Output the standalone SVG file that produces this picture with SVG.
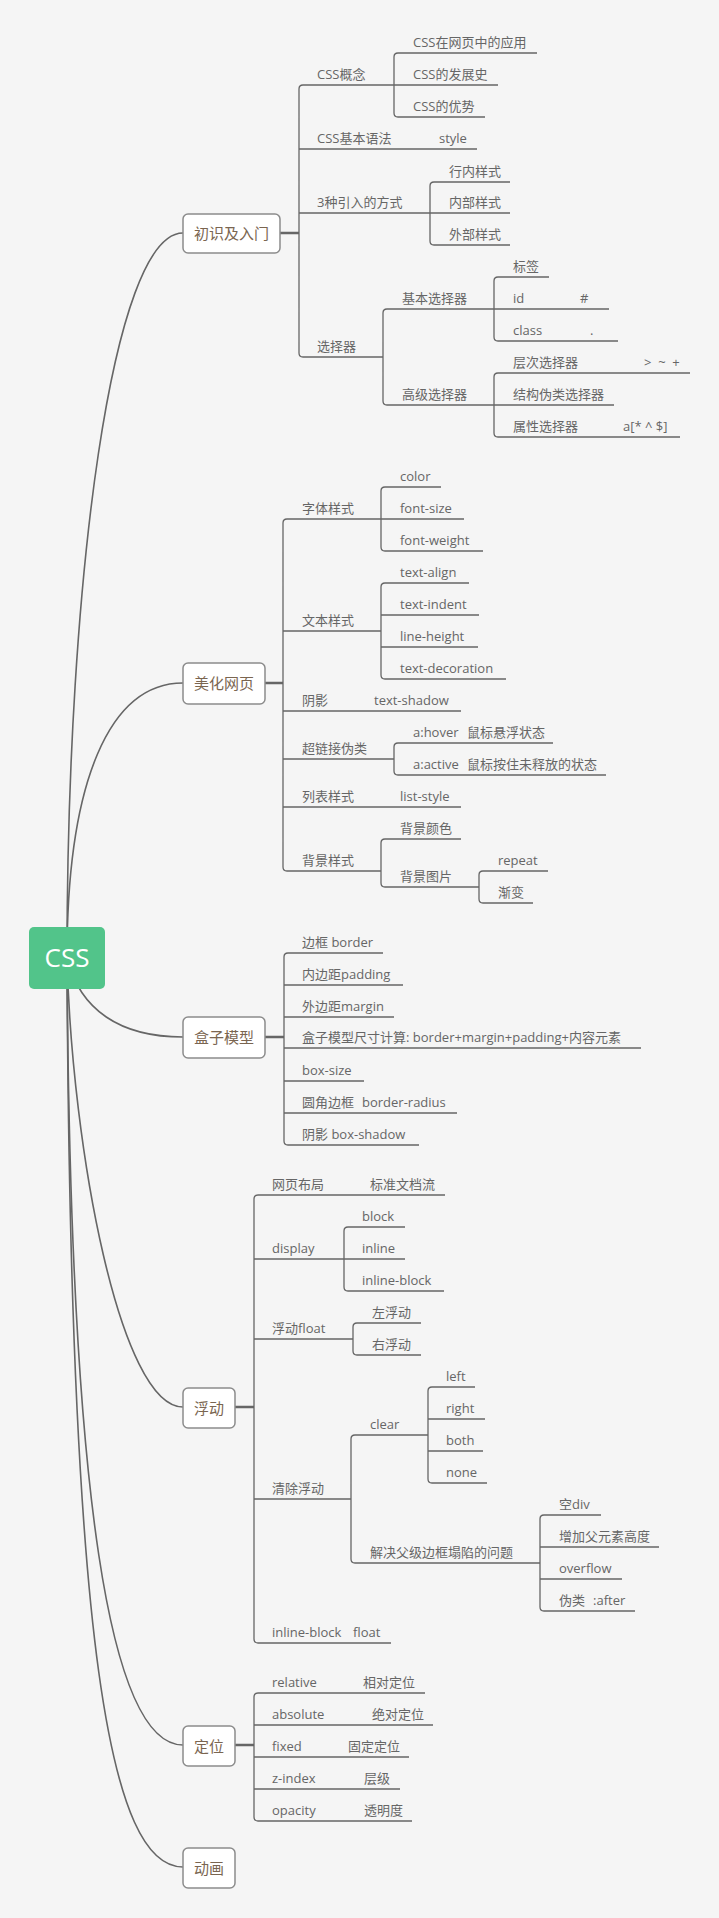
<svg xmlns="http://www.w3.org/2000/svg" width="719" height="1918" viewBox="0 0 719 1918">
<style>
.bg{fill:#f5f5f5}
.c{fill:none;stroke:#666;stroke-width:1.6}
.bc{fill:none;stroke:#666;stroke-width:2.4}
.l{fill:none;stroke:#666;stroke-width:1.3}
.t{font-family:"Open Sans","Noto Sans CJK SC",sans-serif;font-size:13px;fill:#666}
.box{fill:#fff;stroke:#8c8c8c;stroke-width:1.5}
.bt{font-family:"Noto Sans CJK SC","Noto Sans",sans-serif;font-size:15px;fill:#7a6550;text-anchor:middle}
.root{fill:#52c48a}
.rt{font-family:"Open Sans","Noto Sans",sans-serif;font-size:26px;fill:#fff;text-anchor:middle}
</style>
<rect class="bg" x="0" y="0" width="719" height="1918"/>
<g id="connectors">
<path class="c" d="M67,958 C67,580 112,233 183,233"/>
<path class="c" d="M67,958 C67,780 110,683 183,683"/>
<path class="c" d="M67,958 C80,1010 120,1037 183,1037"/>
<path class="c" d="M67,958 C72,1150 120,1407 183,1407"/>
<path class="c" d="M67,958 C70,1500 110,1745 183,1745"/>
<path class="c" d="M67,958 C70,1650 110,1867 183,1867"/>
<path class="bc" d="M280,233H299M265,683H283M265,1037H284M235,1407H254M235,1745H254"/>
<path class="l" d="M303,85Q299,85 299,89V353Q299,357 303,357
M398,53Q394,53 394,57V113Q394,117 398,117
M434,182Q430,182 430,186V241Q430,245 434,245
M387,309Q383,309 383,313V401Q383,405 387,405
M498,277Q494,277 494,281V337Q494,341 498,341
M498,373Q494,373 494,377V433Q494,437 498,437
M287,519Q283,519 283,523V867Q283,871 287,871
M385,487Q381,487 381,491V547Q381,551 385,551
M385,583Q381,583 381,587V675Q381,679 385,679
M398,743Q394,743 394,747V771Q394,775 398,775
M385,839Q381,839 381,843V883Q381,887 385,887
M483,871Q479,871 479,875V899Q479,903 483,903
M288,953Q284,953 284,957V1141Q284,1145 288,1145
M258,1195Q254,1195 254,1199V1639Q254,1643 258,1643
M348,1227Q344,1227 344,1231V1287Q344,1291 348,1291
M357,1323Q353,1323 353,1327V1351Q353,1355 357,1355
M355,1435Q351,1435 351,1439V1559Q351,1563 355,1563
M432,1387Q428,1387 428,1391V1479Q428,1483 432,1483
M544,1515Q540,1515 540,1519V1607Q540,1611 544,1611
M258,1693Q254,1693 254,1697V1817Q254,1821 258,1821"/>
<path class="l" d="M303,85H394M299,149H477M299,213H430M303,357H383
M398,53H537M394,85H498M398,117H485
M434,182H510M430,213H510M434,245H510
M387,309H494M387,405H494
M498,277H549M494,309H609M498,341H618
M498,373H690M494,405H614M498,437H680
M287,519H381M283,631H381M283,711H461M283,759H394M283,807H461M287,871H381
M385,487H441M381,519H464M385,551H483
M385,583H469M381,615H479M381,647H478M385,679H506
M398,743H553M398,775H606
M385,839H461M385,887H479
M483,871H548M483,903H533
M288,953H383M284,985H403M284,1017H394M284,1048H641M284,1081H364M284,1113H457M288,1145H419
M258,1195H445M254,1259H344M254,1339H353M254,1499H351M258,1643H391
M348,1227H405M344,1259H405M348,1291H444
M357,1323H421M357,1355H421
M355,1435H428M355,1563H540
M432,1387H475M428,1419H485M428,1451H483M432,1483H487
M544,1515H601M540,1547H659M540,1579H622M544,1611H635
M258,1693H425M254,1725H433M254,1757H409M254,1789H400M258,1821H412"/>
</g>
<g id="root"><rect class="root" x="29" y="927" width="76" height="62" rx="5"/><text class="rt" x="67" y="967">CSS</text></g>
<g id="n-rumen"><rect class="box" x="183" y="214" width="97" height="39" rx="5"/><text class="bt" x="231.5" y="239">初识及入门</text></g>
<g id="n-gainian"><text class="t" x="317" y="78.5">CSS概念</text></g>
<g id="n-yingyong"><text class="t" x="413" y="46.5">CSS在网页中的应用</text></g>
<g id="n-fazhan"><text class="t" x="413" y="78.5">CSS的发展史</text></g>
<g id="n-youshi"><text class="t" x="413" y="110.5">CSS的优势</text></g>
<g id="n-yufa"><text class="t" x="317" y="142.5">CSS基本语法</text></g>
<g id="n-style"><text class="t" x="439" y="142.5">style</text></g>
<g id="n-yinru"><text class="t" x="317" y="206.5">3种引入的方式</text></g>
<g id="n-hangnei"><text class="t" x="449" y="175.5">行内样式</text></g>
<g id="n-neibu"><text class="t" x="449" y="206.5">内部样式</text></g>
<g id="n-waibu"><text class="t" x="449" y="238.5">外部样式</text></g>
<g id="n-xuanze"><text class="t" x="317" y="350.5">选择器</text></g>
<g id="n-jiben"><text class="t" x="402" y="302.5">基本选择器</text></g>
<g id="n-gaoji"><text class="t" x="402" y="398.5">高级选择器</text></g>
<g id="n-biaoqian"><text class="t" x="513" y="270.5">标签</text></g>
<g id="n-id"><text class="t" x="513" y="302.5">id</text><text class="t" x="580" y="302.5">#</text></g>
<g id="n-class"><text class="t" x="513" y="334.5">class</text><text class="t" x="590" y="334.5">.</text></g>
<g id="n-cengci"><text class="t" x="513" y="366.5">层次选择器</text><text class="t" x="644" y="366.5" xml:space="preserve">&gt;  ~  +</text></g>
<g id="n-jiegou"><text class="t" x="513" y="398.5">结构伪类选择器</text></g>
<g id="n-shuxing"><text class="t" x="513" y="430.5">属性选择器</text><text class="t" x="623" y="430.5">a[* ^ $]</text></g>

<g id="n-meihua"><rect class="box" x="183" y="663" width="82" height="41" rx="5"/><text class="bt" x="224" y="689">美化网页</text></g>
<g id="n-ziti"><text class="t" x="302" y="512.5">字体样式</text></g>
<g id="n-color"><text class="t" x="400" y="480.5">color</text></g>
<g id="n-fontsize"><text class="t" x="400" y="512.5">font-size</text></g>
<g id="n-fontweight"><text class="t" x="400" y="544.5">font-weight</text></g>
<g id="n-wenben"><text class="t" x="302" y="624.5">文本样式</text></g>
<g id="n-textalign"><text class="t" x="400" y="576.5">text-align</text></g>
<g id="n-textindent"><text class="t" x="400" y="608.5">text-indent</text></g>
<g id="n-lineheight"><text class="t" x="400" y="640.5">line-height</text></g>
<g id="n-textdeco"><text class="t" x="400" y="672.5">text-decoration</text></g>
<g id="n-yinying"><text class="t" x="302" y="704.5">阴影</text><text class="t" x="374" y="704.5">text-shadow</text></g>
<g id="n-chaolian"><text class="t" x="302" y="752.5">超链接伪类</text></g>
<g id="n-hover"><text class="t" x="413" y="736.5">a:hover</text><text class="t" x="467" y="736.5">鼠标悬浮状态</text></g>
<g id="n-active"><text class="t" x="413" y="768.5">a:active</text><text class="t" x="467" y="768.5">鼠标按住未释放的状态</text></g>
<g id="n-liebiao"><text class="t" x="302" y="800.5">列表样式</text><text class="t" x="400" y="800.5">list-style</text></g>
<g id="n-beijing"><text class="t" x="302" y="864.5">背景样式</text></g>
<g id="n-bjys"><text class="t" x="400" y="832.5">背景颜色</text></g>
<g id="n-bjtp"><text class="t" x="400" y="880.5">背景图片</text></g>
<g id="n-repeat"><text class="t" x="498" y="864.5">repeat</text></g>
<g id="n-jianbian"><text class="t" x="498" y="896.5">渐变</text></g>

<g id="n-hezi"><rect class="box" x="183" y="1017" width="82" height="41" rx="5"/><text class="bt" x="224" y="1043">盒子模型</text></g>
<g id="n-border"><text class="t" x="302" y="946.5">边框 border</text></g>
<g id="n-padding"><text class="t" x="302" y="978.5">内边距padding</text></g>
<g id="n-margin"><text class="t" x="302" y="1010.5">外边距margin</text></g>
<g id="n-chicun"><text class="t" x="302" y="1041.5">盒子模型尺寸计算: border+margin+padding+内容元素</text></g>
<g id="n-boxsize"><text class="t" x="302" y="1074.5">box-size</text></g>
<g id="n-radius"><text class="t" x="302" y="1106.5">圆角边框</text><text class="t" x="362" y="1106.5">border-radius</text></g>
<g id="n-boxshadow"><text class="t" x="302" y="1138.5">阴影 box-shadow</text></g>

<g id="n-fudong"><rect class="box" x="183" y="1388" width="52" height="40" rx="5"/><text class="bt" x="209" y="1413.5">浮动</text></g>
<g id="n-buju"><text class="t" x="272" y="1188.5">网页布局</text><text class="t" x="370" y="1188.5">标准文档流</text></g>
<g id="n-display"><text class="t" x="272" y="1252.5">display</text></g>
<g id="n-block"><text class="t" x="362" y="1220.5">block</text></g>
<g id="n-inline"><text class="t" x="362" y="1252.5">inline</text></g>
<g id="n-inlineblock"><text class="t" x="362" y="1284.5">inline-block</text></g>
<g id="n-float"><text class="t" x="272" y="1332.5">浮动float</text></g>
<g id="n-zuo"><text class="t" x="372" y="1316.5">左浮动</text></g>
<g id="n-you"><text class="t" x="372" y="1348.5">右浮动</text></g>
<g id="n-qingchu"><text class="t" x="272" y="1492.5">清除浮动</text></g>
<g id="n-clear"><text class="t" x="370" y="1428.5">clear</text></g>
<g id="n-left"><text class="t" x="446" y="1380.5">left</text></g>
<g id="n-right"><text class="t" x="446" y="1412.5">right</text></g>
<g id="n-both"><text class="t" x="446" y="1444.5">both</text></g>
<g id="n-none"><text class="t" x="446" y="1476.5">none</text></g>
<g id="n-taxian"><text class="t" x="370" y="1556.5">解决父级边框塌陷的问题</text></g>
<g id="n-kongdiv"><text class="t" x="559" y="1508.5">空div</text></g>
<g id="n-gaodu"><text class="t" x="559" y="1540.5">增加父元素高度</text></g>
<g id="n-overflow"><text class="t" x="559" y="1572.5">overflow</text></g>
<g id="n-after"><text class="t" x="559" y="1604.5">伪类</text><text class="t" x="593" y="1604.5">:after</text></g>
<g id="n-ibfloat"><text class="t" x="272" y="1636.5">inline-block</text><text class="t" x="353" y="1636.5">float</text></g>

<g id="n-dingwei"><rect class="box" x="183" y="1726" width="52" height="40" rx="5"/><text class="bt" x="209" y="1751.5">定位</text></g>
<g id="n-relative"><text class="t" x="272" y="1686.5">relative</text><text class="t" x="363" y="1686.5">相对定位</text></g>
<g id="n-absolute"><text class="t" x="272" y="1718.5">absolute</text><text class="t" x="372" y="1718.5">绝对定位</text></g>
<g id="n-fixed"><text class="t" x="272" y="1750.5">fixed</text><text class="t" x="348" y="1750.5">固定定位</text></g>
<g id="n-zindex"><text class="t" x="272" y="1782.5">z-index</text><text class="t" x="364" y="1782.5">层级</text></g>
<g id="n-opacity"><text class="t" x="272" y="1814.5">opacity</text><text class="t" x="364" y="1814.5">透明度</text></g>

<g id="n-donghua"><rect class="box" x="183" y="1848" width="52" height="40" rx="5"/><text class="bt" x="209" y="1873.5">动画</text></g>
</svg>
